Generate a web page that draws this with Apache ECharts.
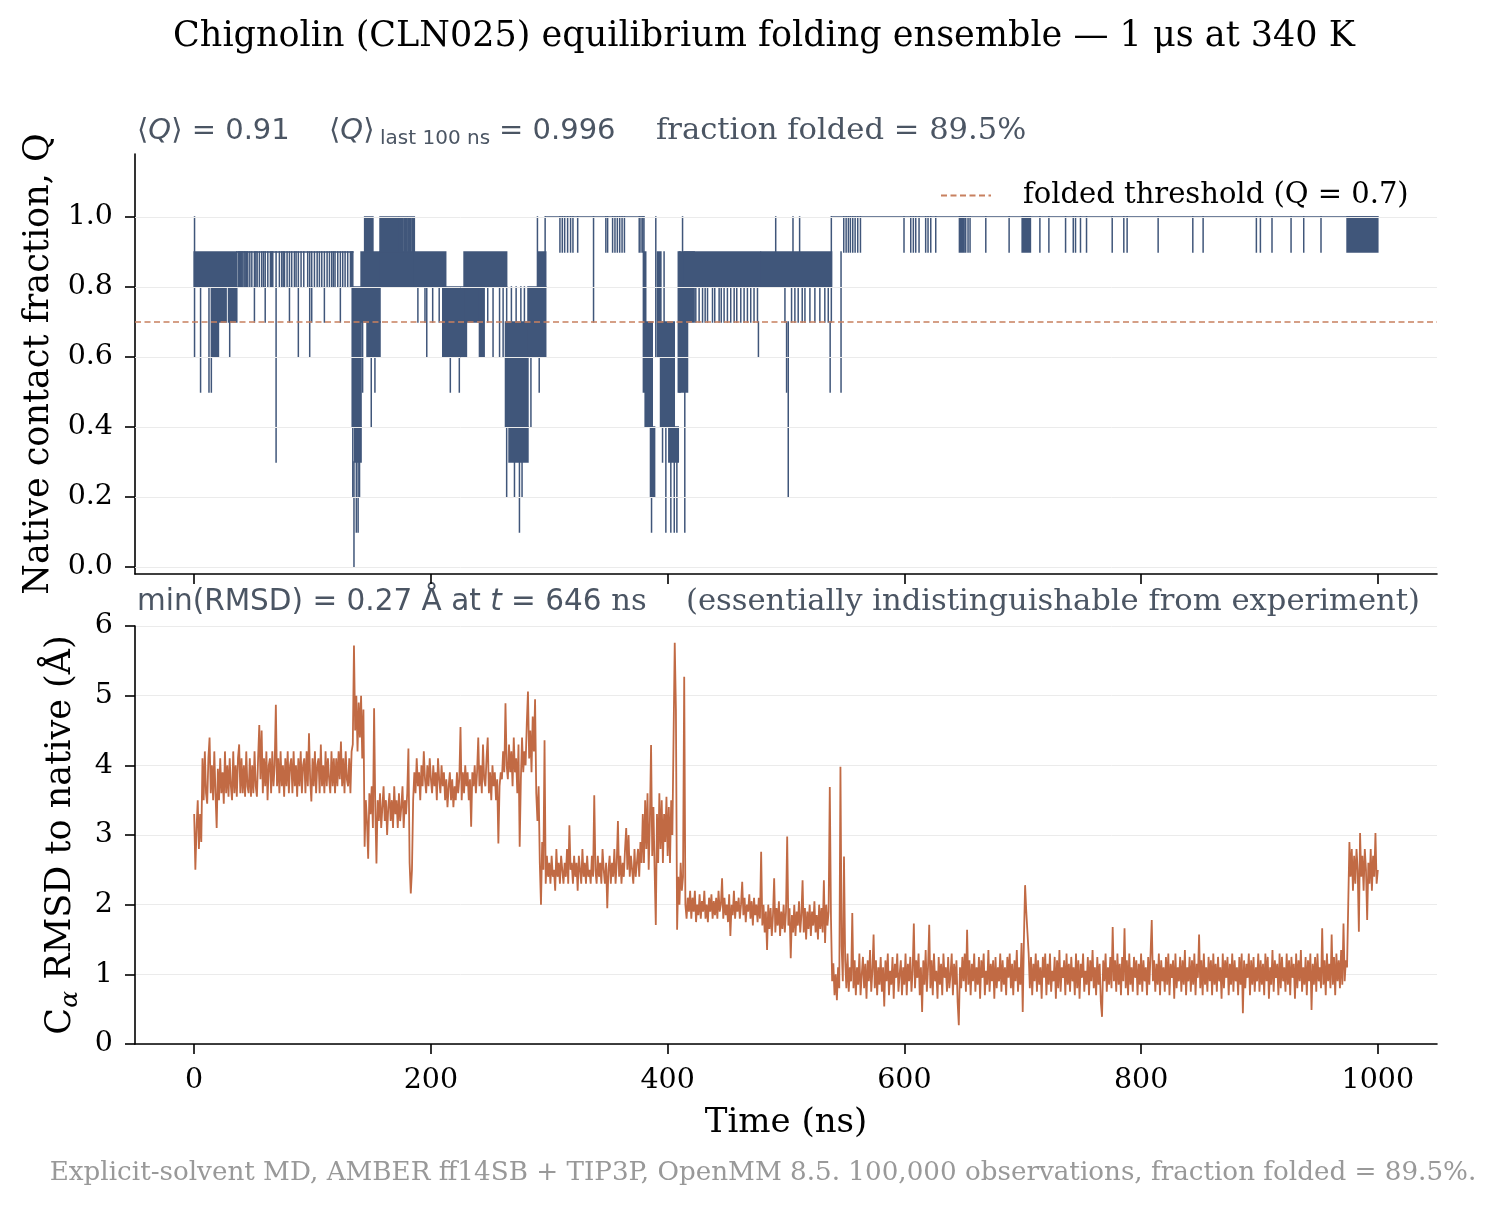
<!DOCTYPE html>
<html>
<head>
<meta charset="utf-8">
<title>Chignolin (CLN025) folding ensemble</title>
<script src="https://cdn.jsdelivr.net/npm/echarts@6/dist/echarts.min.js"></script>
<style>
  html, body { margin: 0; padding: 0; background: #ffffff; }
  #chart { width: 1500px; height: 1209px; }
</style>
</head>
<body>
<div id="chart"></div>
<script>
// ---- values ----
const timeTicks = [0, 200, 400, 600, 800, 1000];
const qTicks = [0, 0.2, 0.4, 0.6, 0.8, 1.0];
const foldedThreshold = 0.7;

// Q: long dwells [tStart, tEnd, Q]
const qRuns = [
    [36, 134, 0.9],
    [297, 380, 1.0],
    [538.5, 1000, 1.0]
];

// Q: fast flicker between two levels, which prints as a solid block [tStart, tEnd, Qlow, Qhigh]
const qBlocks = [
    [0, 36, 0.8, 0.9], [15, 20.5, 0.6, 0.8], [20.5, 27, 0.7, 0.8], [29, 36, 0.7, 0.8],
    // first unfolding, ~134-297 ns
    [133.5, 141, 0.4, 0.8], [135.5, 141, 0.3, 0.4],
    [141, 157, 0.7, 0.9], [144, 151, 0.9, 1.0], [146, 157, 0.6, 0.7],
    [157, 186, 0.8, 0.9], [157, 172.5, 0.9, 1.0], [173.5, 176.5, 0.9, 1.0],
    [177.5, 179.5, 0.9, 1.0], [180.5, 183, 0.9, 1.0], [184, 186, 0.9, 1.0],
    [186, 212.5, 0.8, 0.9], [210, 230, 0.6, 0.8],
    [228, 264, 0.8, 0.9], [229, 241, 0.7, 0.8], [241, 245, 0.6, 0.8],
    [263, 282, 0.4, 0.7], [266, 282, 0.3, 0.4], [282, 297, 0.6, 0.8], [291, 297, 0.8, 0.9],
    // second unfolding, ~380-538 ns
    [379.5, 381.5, 0.5, 0.9], [381, 387, 0.4, 0.7], [385.5, 389, 0.2, 0.4],
    [391.4, 394.3, 0.6, 0.9], [394, 405.6, 0.4, 0.7], [401, 409, 0.3, 0.4],
    [409, 410.5, 0.5, 0.9], [409.7, 416.8, 0.5, 0.7], [410, 422.4, 0.7, 0.9],
    [414, 478.4, 0.8, 0.9], [479, 538.5, 0.8, 0.9],
    // flicker while folded
    [646.5, 650.5, 0.9, 1.0], [699.5, 706.5, 0.9, 1.0], [974, 1000, 0.9, 1.0]
];

// Q: single excursions [t, Qlow, Qhigh]
const qSpikes = [
    [0.3, 0.6, 1.0], [5.4, 0.5, 0.8], [12.5, 0.5, 0.8], [14.5, 0.5, 0.8], [30, 0.6, 0.7],
    [50.9, 0.7, 0.8], [60, 0.7, 0.8], [69.2, 0.3, 0.8], [80.5, 0.7, 0.8], [88, 0.6, 0.8],
    [97.6, 0.6, 0.8], [99.3, 0.7, 0.8], [110, 0.7, 0.8], [123.5, 0.7, 0.8],
    [134, 0.2, 0.9], [135, 0.0, 0.3], [137, 0.1, 0.3], [138.5, 0.1, 0.3], [139.7, 0.2, 0.3],
    [142.3, 0.5, 0.7], [149.6, 0.4, 0.6], [152.7, 0.5, 0.6],
    [189, 0.7, 0.8], [195, 0.7, 0.8], [196.5, 0.6, 0.8], [201.5, 0.7, 0.8], [207, 0.7, 0.8],
    [216.4, 0.5, 0.6], [224, 0.5, 0.6],
    [248, 0.7, 0.8], [252.5, 0.6, 0.8], [258, 0.6, 0.8], [261, 0.6, 0.8],
    [264, 0.2, 0.8], [268, 0.7, 0.8], [270.6, 0.2, 0.3], [272, 0.7, 0.8], [274.8, 0.1, 0.3],
    [276, 0.7, 0.8], [277, 0.2, 0.3], [279, 0.7, 0.8],
    [284.5, 0.4, 0.6], [290, 0.8, 1.0], [291.5, 0.5, 0.6], [296.5, 0.8, 1.0],
    [337.4, 0.7, 1.0],
    [380, 0.9, 1.0], [386.4, 0.1, 0.2], [390, 0.6, 1.0], [395.7, 0.3, 0.4], [397, 0.7, 0.9],
    [398.5, 0.1, 0.4], [402.7, 0.1, 0.3], [405.6, 0.1, 0.3], [407.8, 0.1, 0.3],
    [412.6, 0.9, 1.0], [414.5, 0.1, 0.5],
    [476.7, 0.6, 0.7], [491.3, 0.9, 1.0], [500.5, 0.5, 0.7], [501.9, 0.2, 0.7],
    [505.9, 0.9, 1.0], [511.5, 0.9, 1.0], [537.3, 0.5, 0.7], [538.3, 0.7, 1.0], [546.5, 0.5, 0.9]
];

// Q: brief dips of one contact, times in ns
const qDips10 = [ // 1.0 -> 0.9
    309, 311, 313, 315.5, 318, 320, 324, 347.8, 349.3, 353.5, 355.5, 357.5, 359.5, 361.5, 363.5,
    376, 377.5, 379, 548.8, 550.8, 552.7, 554.4, 556.4, 558.4, 560.6, 562.9,
    599.7, 605.4, 607.6, 609.6, 612.4, 618, 620, 622.3, 626.5, 651.8, 653.8, 655.5, 668.8, 688.5,
    714.5, 722.1, 736.2, 742.7, 744.6, 748.8, 753.9, 775.6, 785.4, 788.2, 814.4, 843.7, 852.4,
    897.4, 900.8, 910.6, 926.7, 937.4, 952
];
const qDips09 = [ // 0.9 -> 0.8
    37.4, 38.3, 39.1, 40.2, 41.1, 42.2, 43.1, 44.3, 45.3, 47, 48.7, 50.9, 52.1, 53.2, 55.1, 57.1,
    58.6, 60, 62.2, 64.4, 65.5, 66.4, 69.2, 72, 74, 75.2, 76.3, 78.5, 80.5, 82.4, 84.7, 86.1, 88,
    90.3, 92.6, 95.9, 97.6, 99.3, 101.6, 103.9, 105.8, 107.8, 110, 112.3, 114.3, 116.2, 117.6, 119,
    121.3, 123.5, 125.5, 127.5, 129.7, 132, 133.1
];
const qDips08 = [ // 0.8 -> 0.7
    423.8, 426.6, 429.5, 431.7, 433.7, 437.9, 439.8, 443.5, 445.3, 447.7, 450.5, 453.3, 456.2,
    458.4, 461.8, 464.6, 467.4, 470.2, 473, 475.9, 499.1, 504.7, 507.5, 510.3, 513.7, 516,
    520.2, 524.4, 528.6, 532.8, 535.7
];

// C-alpha RMSD to native (Å), one value per ns from t = 0 (20 per row)
const rmsd = [
    3.3, 2.5, 3.1, 3.5, 2.8, 3.3, 2.9, 4.1, 3.5, 4.2, 3.6, 3.45, 4.1, 4.4, 3.6, 4.0, 3.5, 4.2, 3.6, 3.1,     // 0
    3.95, 3.5, 4.1, 3.6, 3.9, 3.45, 4.2, 3.6, 4.0, 3.55, 4.1, 3.7, 3.5, 4.2, 3.6, 4.0, 3.55, 4.1, 4.3, 3.6,  // 20
    4.1, 3.6, 4.0, 3.55, 4.2, 3.7, 3.6, 4.1, 3.55, 4.0, 3.6, 4.2, 3.7, 3.55, 4.1, 4.58, 3.8, 4.5, 3.6, 4.1,  // 40
    3.7, 4.2, 3.5, 4.0, 4.1, 3.6, 4.2, 3.7, 4.0, 4.87, 3.7, 4.1, 3.6, 4.2, 3.7, 4.0, 3.55, 4.1, 3.7, 4.2,    // 60
    3.6, 4.0, 4.1, 3.6, 4.2, 3.7, 4.0, 3.55, 4.1, 3.7, 4.2, 3.6, 4.0, 4.1, 3.6, 4.2, 3.7, 4.46, 3.8, 3.48,   // 80
    4.1, 3.7, 4.2, 3.6, 4.0, 4.1, 3.6, 4.3, 3.7, 4.0, 3.6, 4.2, 3.7, 4.1, 3.8, 3.6, 4.2, 3.7, 4.1, 3.6,      // 100
    4.1, 3.7, 4.2, 3.8, 4.34, 3.7, 4.1, 3.6, 4.2, 3.8, 3.7, 4.1, 3.6, 4.2, 4.3, 5.72, 4.5, 5.0, 4.2, 4.9,    // 120
    4.4, 5.0, 4.1, 4.8, 2.83, 3.5, 3.2, 2.66, 3.6, 3.3, 3.7, 3.1, 4.82, 3.4, 2.59, 3.5, 3.2, 3.6, 3.1, 3.4,  // 140
    3.7, 3.2, 3.5, 3.0, 3.4, 3.6, 3.2, 3.5, 3.1, 3.7, 3.3, 3.5, 3.1, 3.6, 3.2, 3.4, 3.7, 3.1, 3.5, 3.3,      // 160
    3.6, 4.24, 2.6, 2.16, 2.5, 3.5, 3.9, 3.6, 4.1, 3.7, 3.9, 3.5, 4.0, 3.7, 4.2, 3.8, 3.6, 4.0, 3.7, 4.1,    // 180
    3.8, 3.6, 4.0, 3.7, 3.9, 3.5, 4.1, 3.8, 3.6, 4.0, 3.7, 3.9, 3.5, 3.8, 3.4, 3.7, 3.9, 3.5, 3.8, 3.4,      // 200
    3.7, 3.5, 3.9, 3.6, 3.8, 4.55, 3.5, 3.9, 3.6, 4.0, 3.7, 3.9, 3.5, 3.8, 3.12, 3.9, 3.7, 4.0, 3.6, 3.9,    // 220
    4.4, 3.7, 4.0, 3.6, 4.3, 3.8, 3.7, 4.1, 4.4, 3.6, 3.9, 3.5, 4.0, 3.7, 3.9, 3.5, 3.8, 2.88, 3.7, 3.9,     // 240
    3.8, 4.2, 3.9, 4.89, 4.0, 3.8, 4.3, 3.9, 4.2, 3.7, 4.4, 3.9, 4.1, 3.6, 4.3, 2.83, 3.8, 4.4, 3.9, 4.2,    // 260
    4.0, 4.6, 5.06, 4.1, 4.5, 3.9, 4.7, 4.2, 4.95, 3.6, 3.2, 3.7, 2.6, 2.0, 2.9, 2.5, 4.36, 2.3, 2.7, 2.4,   // 280
    2.6, 2.3, 2.7, 2.4, 2.5, 2.2, 2.8, 2.4, 2.6, 2.3, 2.7, 2.5, 2.3, 2.6, 2.4, 2.8, 2.3, 3.14, 2.5, 2.6,     // 300
    2.3, 2.7, 2.4, 2.6, 2.2, 2.7, 2.5, 2.3, 2.8, 2.4, 2.6, 2.3, 2.7, 2.4, 2.5, 2.3, 2.7, 2.4, 3.57, 2.5,     // 320
    2.3, 2.7, 2.4, 2.6, 2.3, 2.8, 2.5, 2.3, 2.6, 1.95, 2.5, 2.7, 2.3, 2.6, 2.4, 2.8, 2.3, 2.6, 3.2, 2.4,     // 340
    2.7, 2.3, 2.6, 2.4, 2.8, 3.1, 2.5, 3.0, 2.4, 2.7, 2.5, 2.3, 2.8, 2.4, 2.6, 2.8, 2.4, 2.9, 2.6, 3.3,      // 360
    2.6, 3.5, 2.8, 3.6, 2.5, 3.2, 4.29, 2.7, 3.4, 2.5, 1.71, 3.3, 2.6, 3.6, 2.8, 3.5, 2.6, 3.3, 2.9, 3.55,   // 380
    2.7, 3.4, 2.6, 3.5, 3.0, 4.4, 5.76, 4.8, 1.64, 2.4, 2.0, 2.6, 2.2, 2.4, 5.27, 2.0, 1.8, 2.1, 1.9, 2.2,   // 400
    1.8, 2.1, 1.9, 2.2, 1.75, 2.0, 1.85, 2.15, 1.8, 2.05, 1.9, 2.2, 1.8, 2.0, 1.75, 2.1, 1.9, 2.15, 1.8, 2.05, // 420
    1.85, 2.1, 1.8, 2.2, 1.9, 2.0, 2.38, 1.8, 2.1, 1.85, 2.0, 1.75, 2.15, 1.55, 2.0, 1.85, 2.2, 1.8, 2.05, 1.9, // 440
    2.1, 1.8, 2.0, 2.33, 1.85, 2.1, 1.75, 2.0, 1.9, 2.15, 1.8, 2.05, 1.7, 2.1, 1.85, 2.0, 1.75, 2.1, 1.8, 2.76, // 460
    1.7, 2.0, 1.6, 1.9, 1.35, 2.0, 1.65, 1.95, 1.55, 1.85, 2.38, 1.6, 1.95, 1.7, 2.05, 1.55, 1.9, 1.65, 2.0, 1.6, // 480
    1.9, 2.98, 1.7, 1.95, 1.23, 1.85, 1.6, 2.0, 1.55, 1.9, 1.7, 2.05, 1.6, 1.85, 2.35, 1.6, 1.95, 1.5, 1.9, 1.65, // 500
    2.0, 1.55, 1.9, 1.7, 2.05, 1.6, 1.85, 1.5, 2.0, 1.65, 1.95, 1.6, 2.35, 1.45, 2.0, 1.7, 1.9, 3.69, 1.8, 0.9,  // 520
    1.16, 0.7, 1.0, 0.63, 1.1, 0.8, 3.98, 1.4, 0.9, 2.69, 1.2, 0.8, 1.3, 0.75, 1.1, 0.9, 1.88, 0.8, 1.2, 0.7,    // 540
    1.1, 0.85, 1.3, 0.7, 1.0, 1.25, 0.8, 1.15, 0.65, 1.2, 0.9, 1.35, 0.75, 1.05, 1.57, 0.8, 1.2, 0.7, 1.1, 0.85, // 560
    1.25, 0.75, 1.1, 0.54, 1.2, 0.9, 1.3, 0.7, 1.05, 0.85, 1.25, 0.65, 1.15, 0.95, 1.3, 0.75, 1.0, 1.2, 0.7, 1.1, // 580
    0.85, 1.3, 0.7, 1.15, 0.9, 1.25, 0.75, 1.05, 1.73, 0.8, 1.2, 0.95, 1.3, 0.7, 1.1, 0.46, 1.2, 0.85, 1.35, 0.75, // 600
    1.1, 1.71, 0.8, 1.2, 0.7, 1.3, 0.9, 1.05, 0.65, 1.25, 0.85, 1.15, 0.7, 1.3, 0.95, 1.1, 0.75, 1.25, 0.8, 1.0,  // 620
    1.3, 0.7, 1.15, 0.85, 1.2, 0.6, 0.27, 1.1, 0.8, 1.25, 0.9, 1.3, 0.75, 1.64, 0.85, 1.2, 0.7, 1.15, 0.9, 1.3,   // 640
    0.75, 1.1, 0.85, 1.25, 0.65, 1.2, 0.95, 1.3, 0.7, 1.05, 0.85, 1.35, 0.75, 1.15, 0.9, 1.2, 0.65, 1.25, 0.8, 1.1, // 660
    0.9, 1.3, 0.75, 1.2, 0.85, 1.1, 0.7, 1.25, 0.95, 1.3, 0.8, 1.15, 0.7, 1.2, 0.9, 1.35, 0.75, 1.1, 0.85, 1.45,  // 680
    0.46, 1.5, 2.28, 1.9, 1.6, 1.3, 0.8, 1.25, 0.7, 1.15, 0.9, 1.3, 0.75, 1.2, 0.85, 1.1, 0.65, 1.25, 0.95, 1.3,  // 700
    0.7, 1.15, 0.85, 1.3, 0.75, 1.05, 0.9, 1.25, 0.65, 1.2, 0.8, 1.35, 0.75, 1.1, 0.95, 1.2, 0.7, 1.3, 0.85, 1.15, // 720
    0.75, 1.25, 0.9, 1.1, 0.7, 1.3, 0.8, 1.2, 0.65, 1.15, 0.95, 1.3, 0.75, 1.05, 0.85, 1.25, 0.7, 1.2, 0.9, 1.35, // 740
    0.8, 1.1, 0.7, 1.25, 0.85, 1.15, 0.6, 0.39, 1.2, 0.9, 1.3, 0.75, 1.1, 0.85, 1.25, 0.8, 1.68, 0.9, 1.2, 0.75,  // 760
    1.3, 0.85, 1.15, 0.7, 1.25, 0.9, 1.66, 0.8, 1.2, 0.7, 1.3, 0.85, 1.1, 0.75, 1.25, 0.95, 1.2, 0.7, 1.15, 0.85, // 780
    1.3, 0.75, 1.2, 0.9, 1.1, 0.7, 1.25, 0.85, 1.3, 1.78, 0.9, 1.2, 0.75, 1.15, 0.85, 1.3, 0.7, 1.2, 0.9, 1.1,   // 800
    0.75, 1.25, 0.85, 1.3, 0.7, 1.15, 0.95, 1.2, 0.65, 1.3, 0.8, 1.1, 0.9, 1.25, 0.75, 1.2, 0.85, 1.35, 0.7, 1.1, // 820
    0.9, 1.25, 0.75, 1.2, 0.85, 1.3, 0.7, 1.15, 0.95, 1.57, 0.8, 1.2, 0.7, 1.3, 0.85, 1.1, 0.75, 1.25, 0.9, 1.2,  // 840
    0.7, 1.3, 0.85, 1.15, 0.75, 1.25, 0.9, 1.1, 0.65, 1.3, 0.8, 1.2, 0.95, 1.25, 0.7, 1.15, 0.85, 1.3, 0.75, 1.2, // 860
    0.9, 1.1, 0.7, 1.25, 0.85, 1.3, 0.44, 1.2, 0.8, 1.15, 0.95, 1.3, 0.7, 1.2, 0.85, 1.25, 0.75, 1.1, 0.9, 1.3,   // 880
    0.75, 1.2, 0.85, 1.15, 0.7, 1.3, 0.9, 1.25, 0.65, 1.1, 0.85, 1.35, 0.75, 1.2, 0.95, 1.15, 0.7, 1.3, 0.8, 1.25, // 900
    0.9, 1.1, 0.75, 1.3, 0.85, 1.2, 0.7, 1.25, 0.95, 1.15, 0.65, 1.3, 0.8, 1.2, 0.9, 1.35, 0.75, 1.1, 0.85, 1.25, // 920
    0.7, 1.2, 0.9, 1.3, 0.49, 1.15, 0.85, 1.25, 0.75, 1.3, 0.9, 1.1, 0.8, 1.66, 0.85, 1.2, 0.7, 1.3, 0.9, 1.15,   // 940
    0.8, 1.57, 0.85, 1.25, 0.7, 1.3, 0.9, 1.2, 0.8, 1.35, 0.85, 1.73, 0.9, 1.2, 1.1, 2.0, 2.9, 2.4, 2.8, 2.2,     // 960
    2.7, 2.3, 2.8, 2.5, 1.61, 3.03, 2.4, 2.7, 2.2, 2.8, 2.5, 1.78, 2.6, 2.3, 2.8, 2.2, 2.7, 2.4, 3.03, 2.3,      // 980
    2.5                                                                                                        // 1000
];
const rmsdStep = 1; // ns between samples

// ---- styling ----
const qColor = '#40567a';
const rmsdColor = '#c16a44';
const thresholdColor = '#c8805f';
const gridGray = '#ebebeb';
const noteGray = '#4b5563';
const SERIF = '"DejaVu Serif", "Liberation Serif", serif';
const SANS = '"DejaVu Sans", "Liberation Sans", sans-serif';
const thresholdName = 'folded threshold (Q = 0.7)';

// every Q piece as [tStart, tEnd, Qlow, Qhigh]
const qSegments = []
    .concat(qRuns.map(r => [r[0], r[1], r[2], r[2]]))
    .concat(qBlocks)
    .concat(qSpikes.map(s => [s[0], s[0], s[1], s[2]]))
    .concat(qDips10.map(t => [t, t, 0.9, 1.0]))
    .concat(qDips09.map(t => [t, t, 0.8, 0.9]))
    .concat(qDips08.map(t => [t, t, 0.7, 0.8]));

const rmsdData = rmsd.map((v, i) => [i * rmsdStep, v]);

function renderQ(params, api) {
    const a = api.coord([api.value(0), api.value(3)]);
    const b = api.coord([api.value(1), api.value(2)]);
    const lw = 1.5;
    return {
        type: 'rect',
        shape: { x: a[0] - lw / 2, y: a[1] - lw / 2, width: (b[0] - a[0]) + lw, height: (b[1] - a[1]) + lw },
        style: { fill: qColor }
    };
}

const axisLineStyle = { color: '#000', width: 1.6 };
const tickLabel = { color: '#000', fontFamily: SERIF, fontSize: 28.5 };
const middleText = { textVerticalAlign: 'middle', verticalAlign: 'middle' };

const chart = echarts.init(document.getElementById('chart'), null, { renderer: 'canvas' });

chart.setOption({
    animation: false,
    backgroundColor: '#ffffff',
    grid: [
        { left: 135, top: 154, width: 1302, height: 420 },
        { left: 135, top: 626, width: 1302, height: 418 }
    ],
    legend: {
        data: [thresholdName],
        left: 935,
        top: 176,
        itemWidth: 50,
        itemHeight: 14,
        itemStyle: { opacity: 0 },
        textStyle: { fontFamily: SERIF, fontSize: 29, color: '#000', padding: [0, 0, 0, 27] }
    },
    xAxis: [
        {
            type: 'value', gridIndex: 0, min: -50, max: 1050,
            axisLine: { onZero: false, lineStyle: axisLineStyle },
            axisTick: { show: true, customValues: timeTicks, length: 10, lineStyle: axisLineStyle },
            axisLabel: { show: false },
            splitLine: { show: false }
        },
        {
            type: 'value', gridIndex: 1, min: -50, max: 1050,
            axisLine: { onZero: false, lineStyle: axisLineStyle },
            axisTick: { show: true, customValues: timeTicks, length: 10, lineStyle: axisLineStyle },
            axisLabel: Object.assign({ customValues: timeTicks, margin: 22, formatter: v => String(v) }, tickLabel),
            splitLine: { show: false },
            name: 'Time (ns)',
            nameLocation: 'middle',
            nameGap: 62,
            nameTextStyle: { fontFamily: SERIF, fontSize: 34, color: '#000' }
        }
    ],
    yAxis: [
        {
            type: 'value', gridIndex: 0, min: -0.02, max: 1.18,
            axisLine: { show: true, onZero: false, lineStyle: axisLineStyle },
            axisTick: { show: true, customValues: qTicks, length: 10, lineStyle: axisLineStyle },
            axisLabel: Object.assign({ customValues: qTicks, margin: 22, formatter: v => v.toFixed(1) }, tickLabel),
            splitLine: { show: false },
            name: 'Native contact fraction, Q',
            nameLocation: 'middle',
            nameRotate: 90,
            nameGap: 78,
            nameTextStyle: { fontFamily: SERIF, fontSize: 35, color: '#000' }
        },
        {
            type: 'value', gridIndex: 1, min: 0, max: 6, interval: 1,
            axisLine: { show: true, onZero: false, lineStyle: axisLineStyle },
            axisTick: { show: true, length: 10, lineStyle: axisLineStyle },
            axisLabel: Object.assign({ margin: 22 }, tickLabel),
            splitLine: { show: true, lineStyle: { color: gridGray, width: 1 } },
            name: '{a|C}{s|α}{a| RMSD to native (Å)}',
            nameLocation: 'middle',
            nameRotate: 90,
            nameGap: 52,
            nameTextStyle: {
                rich: {
                    a: { fontFamily: SERIF, fontSize: 35, color: '#000', lineHeight: 45 },
                    s: { fontFamily: SERIF, fontSize: 25, fontStyle: 'italic', color: '#000', verticalAlign: 'bottom', lineHeight: 25 }
                }
            }
        }
    ],
    series: [
        {
            // light horizontal grid of the Q panel
            name: 'qGrid',
            type: 'line',
            xAxisIndex: 0, yAxisIndex: 0,
            data: [],
            silent: true,
            z: 1,
            markLine: {
                silent: true,
                symbol: 'none',
                label: { show: false },
                lineStyle: { color: gridGray, width: 1, type: 'solid' },
                data: qTicks.map(v => ({ yAxis: v }))
            }
        },
        {
            name: 'Q',
            type: 'custom',
            xAxisIndex: 0, yAxisIndex: 0,
            renderItem: renderQ,
            encode: { x: [0, 1], y: [2, 3] },
            data: qSegments,
            silent: true,
            z: 2
        },
        {
            name: thresholdName,
            type: 'line',
            xAxisIndex: 0, yAxisIndex: 0,
            data: [[-50, foldedThreshold], [1050, foldedThreshold]],
            showSymbol: false,
            symbol: 'none',
            silent: true,
            lineStyle: { color: thresholdColor, width: 1.4, type: [6, 3.5] },
            itemStyle: { color: thresholdColor },
            z: 3
        },
        {
            name: 'RMSD',
            type: 'line',
            xAxisIndex: 1, yAxisIndex: 1,
            data: rmsdData,
            showSymbol: false,
            symbol: 'none',
            sampling: null,
            silent: true,
            lineStyle: { color: rmsdColor, width: 1.8 },
            z: 2
        }
    ],
    graphic: [
        {
            type: 'text', x: 764, y: 37,
            style: Object.assign({
                text: 'Chignolin (CLN025) equilibrium folding ensemble — 1 μs at 340 K',
                font: '35px ' + SERIF, fill: '#000', textAlign: 'center', align: 'center'
            }, middleText)
        },
        {
            type: 'text', x: 137, y: 131,
            style: Object.assign({
                text: '{m|⟨}{i|Q}{m|⟩ = 0.91}',
                rich: {
                    m: { fontFamily: SANS, fontSize: 29, fill: noteGray },
                    i: { fontFamily: SANS, fontSize: 29, fontStyle: 'italic', fill: noteGray }
                }
            }, middleText)
        },
        {
            type: 'text', x: 329, y: 131,
            style: Object.assign({
                text: '{m|⟨}{i|Q}{m|⟩}',
                rich: {
                    m: { fontFamily: SANS, fontSize: 29, fill: noteGray },
                    i: { fontFamily: SANS, fontSize: 29, fontStyle: 'italic', fill: noteGray }
                }
            }, middleText)
        },
        {
            type: 'text', x: 380, y: 139,
            style: Object.assign({ text: 'last 100 ns', font: '20px ' + SANS, fill: noteGray }, middleText)
        },
        {
            type: 'text', x: 499, y: 131,
            style: Object.assign({ text: '= 0.996', font: '29px ' + SANS, fill: noteGray }, middleText)
        },
        {
            type: 'text', x: 656, y: 131,
            style: Object.assign({ text: 'fraction folded = 89.5%', font: '30.6px ' + SERIF, fill: noteGray }, middleText)
        },
        {
            type: 'text', x: 137, y: 602,
            style: Object.assign({
                text: '{m|min(RMSD) = 0.27 Å at }{i|t}{m| = 646}{r| ns}',
                rich: {
                    m: { fontFamily: SANS, fontSize: 29.5, fill: noteGray },
                    i: { fontFamily: SANS, fontSize: 29.5, fontStyle: 'italic', fill: noteGray },
                    r: { fontFamily: SERIF, fontSize: 30.6, fill: noteGray }
                }
            }, middleText)
        },
        {
            type: 'text', x: 686, y: 602,
            style: Object.assign({ text: '(essentially indistinguishable from experiment)', font: '30.6px ' + SERIF, fill: noteGray }, middleText)
        },
        {
            type: 'text', x: 763, y: 1173,
            style: Object.assign({
                text: 'Explicit-solvent MD, AMBER ff14SB + TIP3P, OpenMM 8.5. 100,000 observations, fraction folded = 89.5%.',
                font: '26.2px ' + SERIF, fill: '#999999', textAlign: 'center', align: 'center'
            }, middleText)
        }
    ]
});
</script>
</body>
</html>
